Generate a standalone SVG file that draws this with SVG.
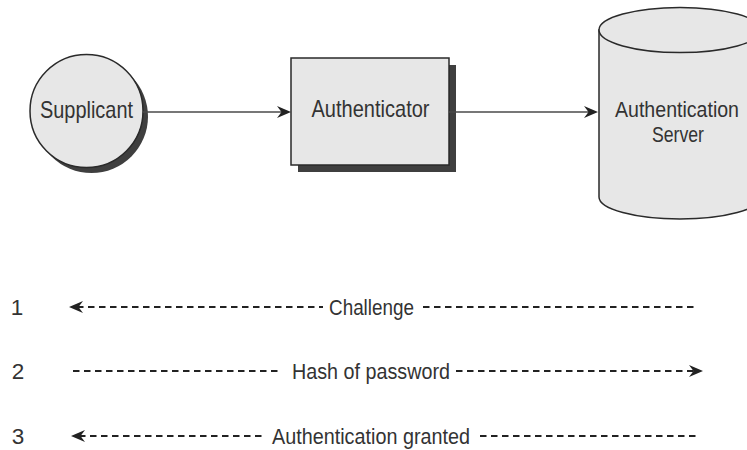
<svg xmlns="http://www.w3.org/2000/svg" width="747" height="450" viewBox="0 0 747 450">
  <style>
    .shape { fill: #e7e7e7; stroke: #2a2a2a; stroke-width: 1.5; }
    .shadow { fill: #3f3f3f; stroke: none; }
    .label { font-family: "Liberation Sans", "Arial", sans-serif; font-size: 24px; fill: #333333; text-anchor: middle; }
    .server { font-size: 22px; }
    .step { font-size: 22.5px; }
    .flow { stroke: #4a4a4a; stroke-width: 1.5; fill: none; }
    .msg { stroke: #222222; stroke-width: 2; stroke-dasharray: 6.5 4.5; fill: none; }
  </style>
  <defs>
    <marker id="head" markerUnits="userSpaceOnUse" markerWidth="16" markerHeight="14" refX="6" refY="6.5" orient="auto-start-reverse">
      <path d="M0,0.5 L14,6.5 L0,12.5 L4.5,6.5 Z" fill="#222222"/>
    </marker>
  </defs>

  <!-- Supplicant -->
  <g id="supplicant">
    <circle class="shadow" cx="91.5" cy="116.5" r="56.5"/>
    <circle class="shape" cx="86.5" cy="111" r="56.5"/>
    <text class="label" x="86.5" y="118" textLength="93" lengthAdjust="spacingAndGlyphs">Supplicant</text>
  </g>

  <!-- Authenticator -->
  <g id="authenticator">
    <rect class="shadow" x="298" y="65" width="158" height="107"/>
    <rect class="shape" x="291" y="58" width="158" height="107"/>
    <text class="label" x="370.5" y="117" textLength="118" lengthAdjust="spacingAndGlyphs">Authenticator</text>
  </g>

  <!-- Authentication server (cylinder, runs past the right edge) -->
  <g id="auth-server">
    <path class="shape" d="M599,30 L599,197 A81,22 0 0 0 761,197 L761,30 Z"/>
    <ellipse class="shape" cx="680" cy="30" rx="81" ry="22.5"/>
    <text class="label server" x="677" y="117" textLength="124" lengthAdjust="spacingAndGlyphs">Authentication</text>
    <text class="label server" x="678" y="142" textLength="52" lengthAdjust="spacingAndGlyphs">Server</text>
  </g>

  <!-- Connectors -->
  <g id="connectors">
    <line class="flow" x1="143" y1="112" x2="283" y2="112" marker-end="url(#head)"/>
    <line class="flow" x1="449" y1="112" x2="590" y2="112" marker-end="url(#head)"/>
  </g>

  <!-- Message sequence -->
  <g id="step-1">
    <text class="label step" x="17" y="315">1</text>
    <line class="msg" x1="77" y1="307" x2="323" y2="307" marker-start="url(#head)"/>
    <text class="label step" x="371.5" y="315" textLength="85" lengthAdjust="spacingAndGlyphs">Challenge</text>
    <line class="msg" x1="423" y1="307" x2="697" y2="307"/>
  </g>
  <g id="step-2">
    <text class="label step" x="18" y="379">2</text>
    <line class="msg" x1="73" y1="371" x2="282" y2="371"/>
    <text class="label step" x="371" y="379" textLength="158" lengthAdjust="spacingAndGlyphs">Hash of password</text>
    <line class="msg" x1="456" y1="371" x2="695" y2="371" marker-end="url(#head)"/>
  </g>
  <g id="step-3">
    <text class="label step" x="18" y="444">3</text>
    <line class="msg" x1="79" y1="436" x2="266" y2="436" marker-start="url(#head)"/>
    <text class="label step" x="371" y="444" textLength="198" lengthAdjust="spacingAndGlyphs">Authentication granted</text>
    <line class="msg" x1="480" y1="436" x2="697" y2="436"/>
  </g>
</svg>
